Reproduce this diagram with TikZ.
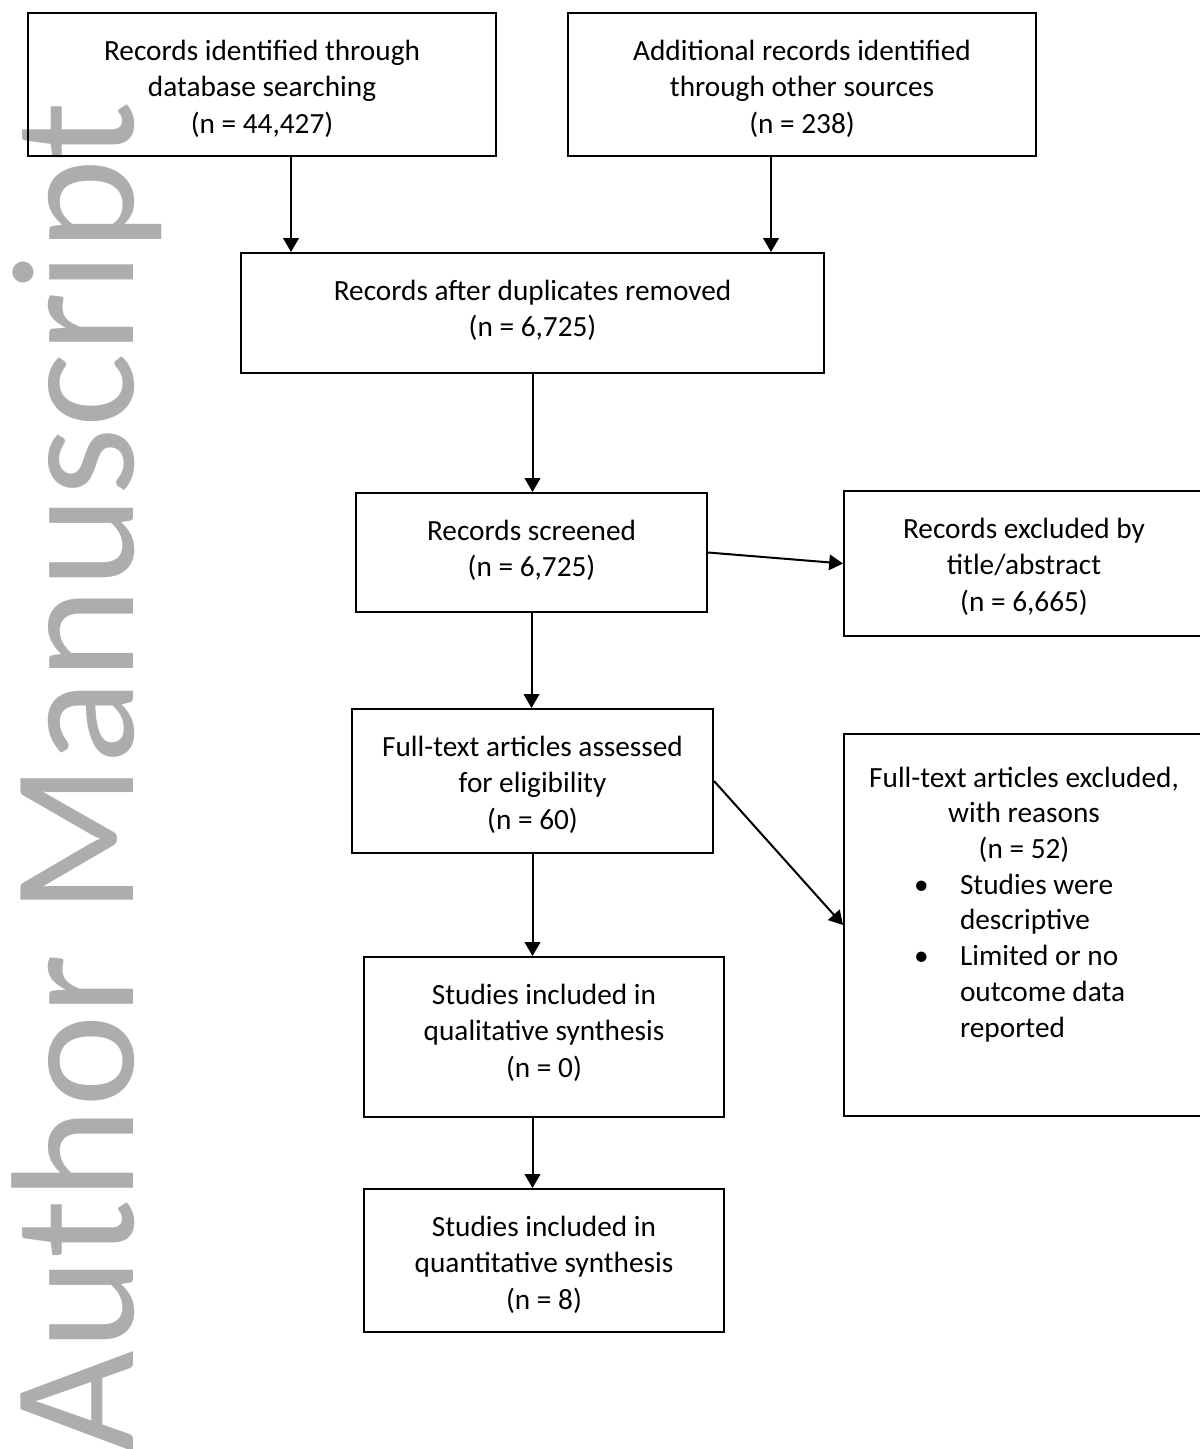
\documentclass[tikz,border=0pt]{standalone}
\usepackage{fontspec}
\usepackage{graphicx}
\setmainfont{Carlito}
\usetikzlibrary{arrows.meta}
\definecolor{wmgray}{RGB}{173,173,173}
\newlength{\pxu}
\setlength{\pxu}{0.42pt}
% box text: height, width (in px), lines
\newcommand{\boxtext}[3]{\parbox[t][#1\pxu][t]{#2\pxu}{\centering\vspace*{22\pxu}\strut #3\par}}
\tikzset{
  box/.style={draw, line width=0.85pt, inner sep=0pt, anchor=north west,
    font=\fontsize{12.3}{15.3}\selectfont},
  flow/.style={-{Triangle[length=5.8pt,width=6.5pt]}, line width=0.85pt},
  wmark/.style={text=wmgray, inner sep=0pt, rotate=90, anchor=base west,
    font=\fontsize{73.7}{74}\selectfont}
}
\begin{document}
\begin{tikzpicture}[x=\pxu, y=-\pxu]
  \useasboundingbox (0,0) rectangle (1199,1449);
  % watermark
  \node[wmark] (wm) at (133,1453) {Author Manuscript};
  % identification
  \node[box] (ident) at (27,12)
    {\boxtext{143}{468}{Records identified through\\database searching\\(n = 44,427)}};
  \node[box] (other) at (567,12)
    {\boxtext{143}{468}{Additional records identified\\through other sources\\(n = 238)}};
  \node[box] (dedup) at (240,252)
    {\boxtext{120}{583}{Records after duplicates removed\\(n = 6,725)}};
  % screening
  \node[box] (screen) at (355,492)
    {\boxtext{119}{351}{Records screened\\(n = 6,725)}};
  \node[box] (excl) at (843,490)
    {\boxtext{145}{360}{Records excluded by\\title/abstract\\(n = 6,665)}};
  % eligibility
  \node[box] (assess) at (351,708)
    {\boxtext{144}{361}{Full-text articles assessed\\for eligibility\\(n = 60)}};
  \node[box] (exclft) at (843,733)
    {\parbox[t][382\pxu][t]{360\pxu}{\fontsize{12.3}{15}\selectfont\vspace*{28\pxu}%
      {\centering\strut Full-text articles excluded,\\with reasons\\(n = 52)\par}
      \hangindent=116\pxu\hangafter=0\noindent
      \llap{\makebox[46\pxu][l]{\textbullet}}Studies were\\descriptive\par
      \hangindent=116\pxu\hangafter=0\noindent
      \llap{\makebox[46\pxu][l]{\textbullet}}Limited or no\\outcome data\\reported\par}};
  % included
  \node[box] (qual) at (363,956)
    {\boxtext{160}{360}{Studies included in\\qualitative synthesis\\(n = 0)}};
  \node[box] (quant) at (363,1188)
    {\boxtext{143}{360}{Studies included in\\quantitative synthesis\\(n = 8)}};
  % arrows
  \draw[flow] ([xshift=29*\pxu]ident.south) -- ([xshift=29*\pxu]ident.south |- dedup.north);
  \draw[flow] ([xshift=-31*\pxu]other.south) -- ([xshift=-31*\pxu]other.south |- dedup.north);
  \draw[flow] (dedup.south) -- (dedup.south |- screen.north);
  \draw[flow] (screen.east) -- (excl.west);
  \draw[flow] (screen.south) -- (screen.south |- assess.north);
  \draw[flow] (assess.east) -- (exclft.west);
  \draw[flow] (assess.south) -- (assess.south |- qual.north);
  \draw[flow] (qual.south -| assess.south) -- (quant.north -| assess.south);
\end{tikzpicture}
\end{document}
